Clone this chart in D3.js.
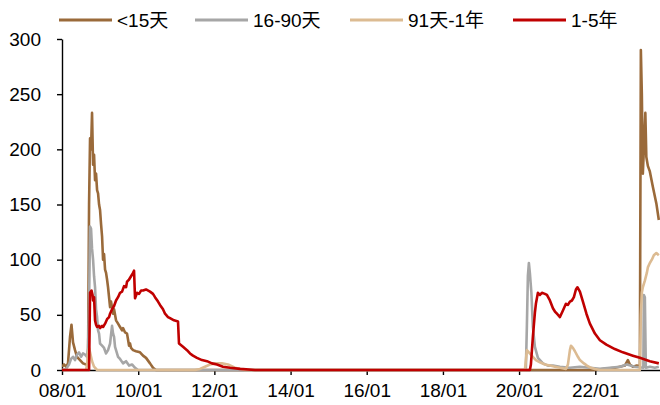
<!DOCTYPE html>
<html>
<head>
<meta charset="utf-8">
<script src="https://cdn.jsdelivr.net/npm/d3@7"></script>
<style>
  html, body { margin: 0; padding: 0; background: #fff; }
  svg { display: block; font-family: "Liberation Sans", Arial, "Noto Sans CJK SC", sans-serif; }
</style>
</head>
<body>
<svg id="chart" width="660" height="405"></svg>
<script>
// ---------------- data (decimal years, values) ----------------
const seriesNames = ["<15天", "16-90天", "91天-1年", "1-5年"];
const seriesColors = ["#9A6A3A", "#A6A6A6", "#DCBB92", "#C00000"];

const yTicks = [0, 50, 100, 150, 200, 250, 300];
const xTickLabels = ["08/01", "10/01", "12/01", "14/01", "16/01", "18/01", "20/01", "22/01"];

// <15天
const lt15Years = [2008.000, 2008.052, 2008.105, 2008.157, 2008.210, 2008.249, 2008.289, 2008.341, 2008.394, 2008.472,
  2008.551, 2008.630, 2008.682, 2008.709, 2008.735, 2008.761, 2008.787, 2008.814, 2008.840, 2008.866,
  2008.892, 2008.919, 2008.945, 2008.971, 2008.997, 2009.024, 2009.050, 2009.076, 2009.102, 2009.129,
  2009.155, 2009.181, 2009.207, 2009.260, 2009.286, 2009.339, 2009.365, 2009.417, 2009.470, 2009.522,
  2009.575, 2009.601, 2009.654, 2009.706, 2009.759, 2009.785, 2009.811, 2009.864, 2009.942, 2010.047,
  2010.126, 2010.205, 2010.310, 2010.388, 2010.467, 2021.990, 2022.252, 2022.514, 2022.646, 2022.777,
  2022.856, 2022.908, 2022.987, 2023.092, 2023.171, 2023.197, 2023.223, 2023.249, 2023.276, 2023.315,
  2023.341, 2023.381, 2023.433, 2023.512, 2023.604, 2023.669];
const lt15Values = [3, 5, 3, 6, 30, 41, 25, 18, 12, 9,
  6, 5, 6, 150, 210, 200, 233, 186, 195, 172,
  178, 163, 160, 150, 145, 132, 121, 100, 105, 91,
  88, 82, 75, 57, 62, 51, 55, 45, 42, 39,
  36, 38, 34, 33, 22, 24, 20, 18, 17, 16,
  13, 11, 6, 2, 0, 0, 1, 2, 3, 4,
  9, 5, 3, 4, 3, 290, 250, 178, 200, 233,
  193, 185, 180, 166, 151, 136];

// 16-90天
const d16Years = [2008.000, 2008.105, 2008.184, 2008.236, 2008.289, 2008.341, 2008.394, 2008.446, 2008.499, 2008.551,
  2008.604, 2008.656, 2008.682, 2008.709, 2008.735, 2008.761, 2008.787, 2008.814, 2008.840, 2008.866,
  2008.892, 2008.919, 2008.945, 2008.971, 2008.997, 2009.050, 2009.102, 2009.155, 2009.207, 2009.260,
  2009.286, 2009.312, 2009.339, 2009.365, 2009.391, 2009.417, 2009.470, 2009.522, 2009.601, 2009.680,
  2009.759, 2009.837, 2009.916, 2009.995, 2020.153, 2020.179, 2020.205, 2020.231, 2020.257, 2020.283,
  2020.323, 2020.362, 2020.415, 2020.494, 2020.625, 2020.756, 2020.887, 2021.071, 2021.333, 2021.596,
  2021.858, 2022.121, 2022.383, 2022.646, 2022.829, 2023.039, 2023.262, 2023.276, 2023.302, 2023.328,
  2023.433, 2023.564, 2023.669];
const d16Values = [0, 1, 5, 10, 12, 9, 14, 16, 12, 15,
  14, 12, 20, 60, 130, 128, 110, 100, 85, 75,
  55, 48, 36, 33, 24, 22, 20, 15, 18, 24,
  32, 40, 33, 30, 21, 18, 12, 10, 6, 8,
  4, 5, 2, 0, 0, 2, 40, 85, 97, 88,
  70, 39, 21, 11, 6, 4, 4, 3, 2, 3,
  2, 1, 2, 3, 5, 3, 2, 68, 66, 2,
  3, 2, 3];

// 91天-1年
const d91Years = [2008.000, 2008.630, 2008.656, 2008.682, 2008.709, 2008.735, 2008.787, 2008.840, 2008.919, 2011.491,
  2011.622, 2011.753, 2011.885, 2012.016, 2012.199, 2012.357, 2012.541, 2012.803, 2020.153, 2020.205,
  2020.257, 2020.362, 2020.441, 2020.546, 2020.677, 2020.808, 2020.940, 2021.071, 2021.228, 2021.281,
  2021.333, 2021.360, 2021.412, 2021.465, 2021.543, 2021.596, 2021.701, 2021.780, 2021.885, 2021.990,
  2022.121, 2023.171, 2023.197, 2023.223, 2023.249, 2023.302, 2023.354, 2023.381, 2023.433, 2023.486,
  2023.538, 2023.604, 2023.669];
const d91Values = [0, 0, 5, 15, 20, 16, 8, 3, 0, 0,
  1, 3, 5, 6, 6, 5, 2, 0, 0, 18,
  16, 12, 9, 7, 5, 4, 3, 2, 1, 5,
  18, 22, 20, 17, 12, 9, 6, 4, 2, 1,
  0, 0, 50, 70, 75, 81, 88, 93, 97, 100,
  104, 106, 104];

// 1-5年
const y15Years = [2008.000, 2008.709, 2008.735, 2008.774, 2008.801, 2008.814, 2008.840, 2008.866, 2008.892, 2008.919,
  2008.971, 2008.997, 2009.050, 2009.076, 2009.129, 2009.181, 2009.234, 2009.260, 2009.312, 2009.365,
  2009.417, 2009.470, 2009.522, 2009.575, 2009.627, 2009.680, 2009.706, 2009.759, 2009.811, 2009.864,
  2009.890, 2009.916, 2009.969, 2010.021, 2010.074, 2010.126, 2010.205, 2010.310, 2010.388, 2010.441,
  2010.520, 2010.572, 2010.651, 2010.704, 2010.782, 2010.835, 2010.940, 2011.045, 2011.071, 2011.176,
  2011.281, 2011.360, 2011.438, 2011.543, 2011.675, 2011.806, 2011.937, 2012.068, 2012.226, 2012.410,
  2012.672, 2013.066, 2020.283, 2020.310, 2020.362, 2020.415, 2020.441, 2020.494, 2020.546, 2020.599,
  2020.677, 2020.730, 2020.808, 2020.887, 2020.940, 2020.992, 2021.071, 2021.150, 2021.228, 2021.281,
  2021.333, 2021.386, 2021.438, 2021.491, 2021.530, 2021.596, 2021.675, 2021.767, 2021.858, 2021.990,
  2022.121, 2022.291, 2022.514, 2022.724, 2022.987, 2023.171, 2023.433, 2023.669];
const y15Values = [0, 0, 70, 72, 68, 63, 66, 45, 41, 39,
  40, 38, 40, 39, 42, 46, 48, 51, 55, 58,
  63, 66, 70, 71, 76, 75, 80, 82, 85, 88,
  90, 65, 70, 69, 72, 72, 73, 71, 69, 66,
  62, 59, 55, 51, 48, 47, 45, 44, 24, 21,
  18, 15, 13, 11, 9, 8, 6, 5, 3, 2,
  1, 0, 0, 5, 30, 52, 60, 70, 68, 70,
  69, 68, 63, 56, 53, 51, 48, 54, 60, 59,
  62, 63, 66, 73, 75, 71, 62, 51, 42, 33,
  27, 23, 19, 16, 13, 11, 8, 6];

const domainStartYear = 2008.0;
const domainEndYear = 2023.70;

// ---------------- helpers ----------------
function yearToDate(yv) {
  const yr = Math.floor(yv);
  const s = Date.UTC(yr, 0, 1), e = Date.UTC(yr + 1, 0, 1);
  return new Date(s + (yv - yr) * (e - s));
}

const seriesYears = [lt15Years, d16Years, d91Years, y15Years];
const seriesValues = [lt15Values, d16Values, d91Values, y15Values];
const seriesData = seriesNames.map((name, i) => ({
  name, color: seriesColors[i],
  points: seriesYears[i].map((yv, j) => ({ date: yearToDate(yv), value: seriesValues[i][j] }))
}));

// ---------------- layout ----------------
const svg = d3.select("#chart");
const plotLeft = 62, plotRight = 660, plotTop = 39, plotBottom = 370;
const FONT = 19;

const xScale = d3.scaleUtc()
  .domain([yearToDate(domainStartYear), yearToDate(domainEndYear)])
  .range([plotLeft, plotRight]);
const yScale = d3.scaleLinear().domain([0, 300]).range([plotBottom, plotTop]);

svg.append("defs").append("clipPath").attr("id", "plotClip")
  .append("rect").attr("x", plotLeft).attr("y", 0)
  .attr("width", plotRight - plotLeft).attr("height", plotBottom + 5);

// axes
const parseTick = d3.utcParse("%y/%m");
const xTickDates = xTickLabels.map(parseTick);

const xAxisG = svg.append("g")
  .attr("transform", `translate(0,${plotBottom})`)
  .call(d3.axisBottom(xScale).tickValues(xTickDates).tickFormat(d3.utcFormat("%y/%m"))
    .tickSize(5).tickSizeOuter(0).tickPadding(9));

const yAxisG = svg.append("g")
  .attr("transform", `translate(${plotLeft},0)`)
  .call(d3.axisLeft(yScale).tickValues(yTicks).tickSize(5).tickSizeOuter(0).tickPadding(16));

[xAxisG, yAxisG].forEach(g => {
  g.selectAll("path.domain").attr("stroke", "#000").attr("stroke-width", 1.4);
  g.selectAll(".tick line").attr("stroke", "#000").attr("stroke-width", 1.4);
  g.selectAll(".tick text").attr("fill", "#000").style("font-size", FONT + "px")
    .style("font-family", '"Liberation Sans", Arial, sans-serif');
});

// lines
const lineGen = d3.line().x(d => xScale(d.date)).y(d => yScale(d.value));
svg.append("g").attr("clip-path", "url(#plotClip)")
  .selectAll("path").data(seriesData).join("path")
  .attr("d", d => lineGen(d.points))
  .attr("fill", "none")
  .attr("stroke", d => d.color)
  .attr("stroke-width", 2.6)
  .attr("stroke-linejoin", "round");

// legend
const legendX = [59, 195, 350, 513];
const legendG = svg.append("g");
seriesData.forEach((s, i) => {
  const g = legendG.append("g").attr("transform", `translate(${legendX[i]},20)`);
  g.append("line").attr("x1", 0).attr("x2", 53).attr("y1", 0).attr("y2", 0)
    .attr("stroke", s.color).attr("stroke-width", 3);
  g.append("text").attr("x", 58).attr("y", 0).attr("dy", "0.35em")
    .style("font-size", FONT + "px").attr("fill", "#000").text(s.name);
});
</script>
</body>
</html>
